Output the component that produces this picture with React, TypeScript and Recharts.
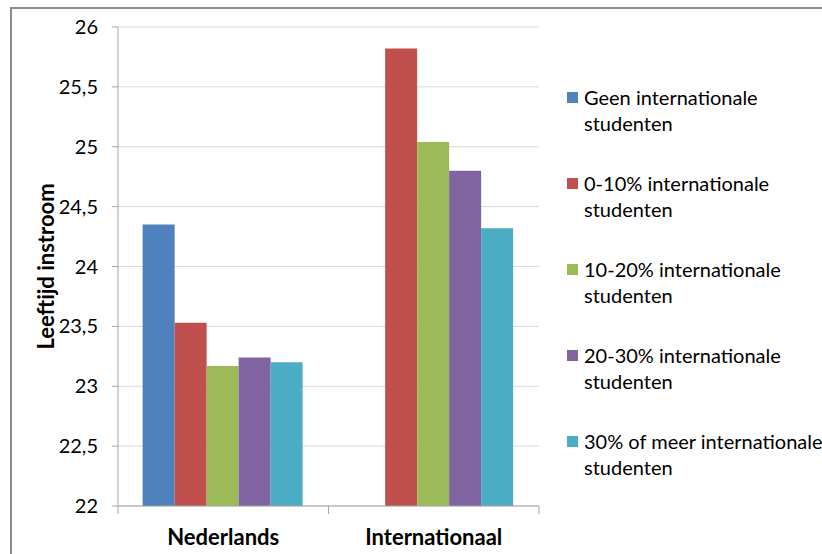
import { BarChart, Bar, XAxis, YAxis, CartesianGrid, Legend } from 'recharts';

const categories = ['Nederlands', 'Internationaal'];
const seriesNames = [
  'Geen internationale studenten',
  '0-10% internationale studenten',
  '10-20% internationale studenten',
  '20-30% internationale studenten',
  '30% of meer internationale studenten',
];
const geen = [24.35, null];
const p0_10 = [23.53, 25.82];
const p10_20 = [23.17, 25.04];
const p20_30 = [23.24, 24.8];
const p30plus = [23.2, 24.32];
const yTicks = [22, 22.5, 23, 23.5, 24, 24.5, 25, 25.5, 26];

const colors = ['#4F81BD', '#C0504D', '#9BBB59', '#8064A2', '#4BACC6'];
const seriesValues = [geen, p0_10, p10_20, p20_30, p30plus];

const data = categories.map((c, i) => {
  const row: Record<string, string | number | null> = { name: c };
  seriesValues.forEach((vals, s) => {
    row['s' + s] = vals[i];
  });
  return row;
});

const FONT = 'Lato, "Open Sans", sans-serif';

const CategoryTick = (props: any) => {
  const { x, y, payload, width, visibleTicksCount } = props;
  const half = width / visibleTicksCount / 2;
  return (
    <g>
      <line x1={x - half} x2={x - half} y1={y} y2={y + 8} stroke="#a6a6a6" />
      <line x1={x + half} x2={x + half} y1={y} y2={y + 8} stroke="#a6a6a6" />
      <text x={x} y={y + 39} textAnchor="middle" fontSize={22} fontWeight="bold" fill="#000" fontFamily={FONT}>
        {payload.value}
      </text>
    </g>
  );
};

// keep legend in series order (recharts sorts it otherwise)
const renderLegend = (props: any) => {
  const payload = [...props.payload].sort(
    (a: any, b: any) => seriesNames.indexOf(a.value) - seriesNames.indexOf(b.value)
  );
  return (
    <div style={{ fontFamily: FONT, fontSize: 20, color: '#000' }}>
      {payload.map((entry: any, i: number) => (
        <div key={i} style={{ display: 'flex', alignItems: 'flex-start', marginBottom: 34, lineHeight: '26px' }}>
          <span style={{ width: 11, height: 11, background: entry.color, marginTop: 8, marginRight: 6, flex: 'none' }} />
          <span style={{ whiteSpace: 'pre' }}>{String(entry.value).replace(' studenten', '\nstudenten')}</span>
        </div>
      ))}
    </div>
  );
};

const YLabel = (props: any) => {
  const { viewBox } = props;
  const cx = viewBox.x - 13;
  const cy = viewBox.y + viewBox.height / 2;
  return (
    <text x={cx} y={cy} transform={`rotate(-90, ${cx}, ${cy})`} textAnchor="middle" dominantBaseline="central"
      fontSize={22} fontWeight="bold" fill="#000" fontFamily={FONT}>
      Leeftijd instroom
    </text>
  );
};

export default function App() {
  return (
    <div style={{ position: 'fixed', left: 0, top: 0, width: 822, height: 554, background: '#fff', overflow: 'hidden' }}>
      <div style={{ position: 'absolute', left: 10, top: 7, width: 820, height: 560, borderLeft: '2px solid #8c8c8c', borderTop: '2px solid #8c8c8c' }} />
      <div style={{ position: 'absolute', left: 0, top: 0 }}>
        <BarChart width={822} height={554} data={data} barCategoryGap="11.7%" barGap={0}
          margin={{ top: 27, right: 28, bottom: 0, left: 58 }}>
          <CartesianGrid vertical={false} stroke="#d9d9d9" />
          <XAxis dataKey="name" height={48} stroke="#a6a6a6" tickLine={false} tickSize={0} tickMargin={0} tick={<CategoryTick />} interval={0} />
          <YAxis domain={[22, 26]} ticks={yTicks} width={60} stroke="#a6a6a6" tickSize={6} tickMargin={14}
            tick={{ fill: '#000', fontSize: 20, fontFamily: FONT }}
            tickFormatter={(v: number) => String(v).replace('.', ',')}
            label={<YLabel />} allowDataOverflow />
          <Legend layout="vertical" verticalAlign="top" align="right" content={renderLegend}
            wrapperStyle={{ left: 567, top: 84, width: 255 }} />
          {seriesNames.map((n, s) => (
            <Bar key={n} dataKey={'s' + s} name={n} fill={colors[s]} isAnimationActive={false} />
          ))}
        </BarChart>
      </div>
    </div>
  );
}
